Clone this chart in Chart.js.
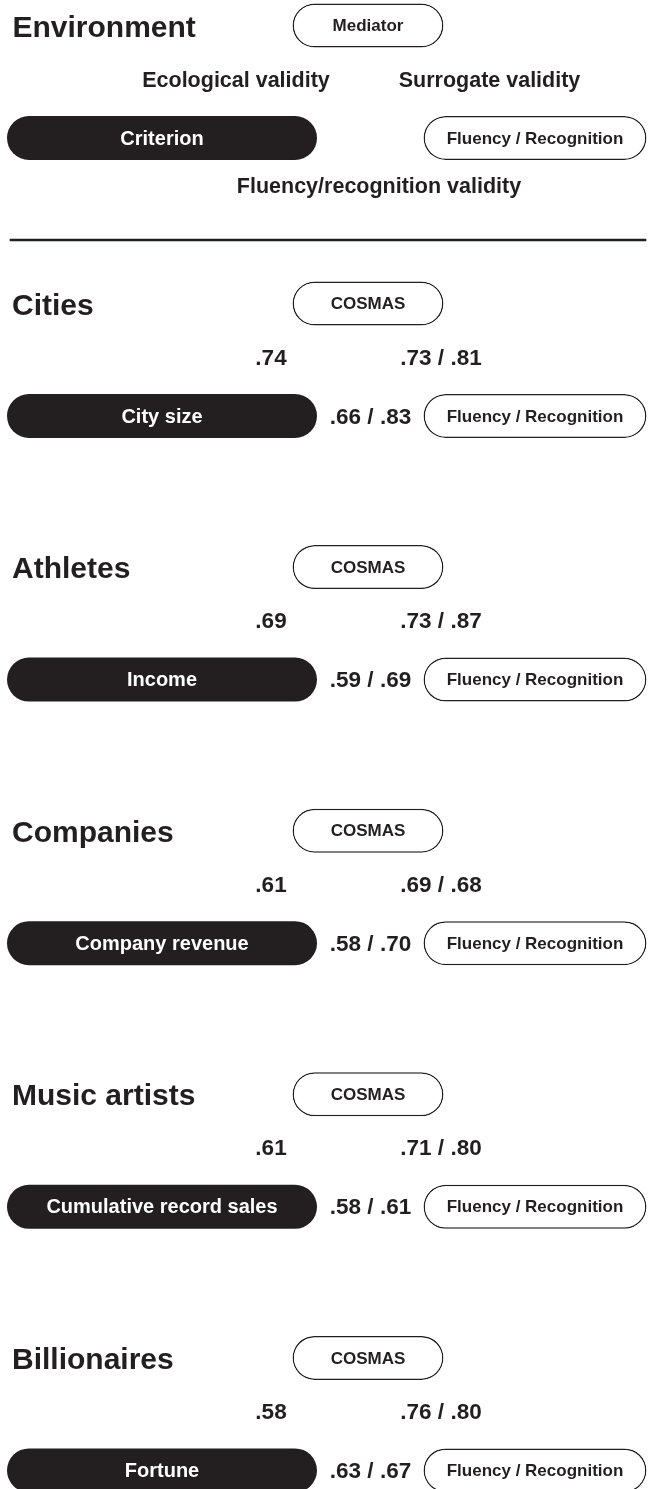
<!DOCTYPE html>
<html>
<head>
<meta charset="utf-8">
<script src="https://cdn.jsdelivr.net/npm/chart.js@4.4.0/dist/chart.umd.min.js"></script>
<style>
  html, body { margin: 0; padding: 0; background: #fff; }
  #wrap { width: 649px; height: 1489px; position: relative; }
</style>
</head>
<body>
<div id="wrap"><canvas id="diagram"></canvas></div>
<script>
// data
const sections = ["Cities", "Athletes", "Companies", "Music artists", "Billionaires"];
const criteria = ["City size", "Income", "Company revenue", "Cumulative record sales", "Fortune"];
const ecologicalValidity = [0.74, 0.69, 0.61, 0.61, 0.58];
const surrogateFluency = [0.73, 0.73, 0.69, 0.71, 0.76];
const surrogateRecognition = [0.81, 0.87, 0.68, 0.80, 0.80];
const validityFluency = [0.66, 0.59, 0.58, 0.58, 0.63];
const validityRecognition = [0.83, 0.69, 0.70, 0.61, 0.67];

// layout (canvas pixels)
const W = 649, H = 1489;
const INK = "#231f20";
const FONT = '"Liberation Sans", Arial, sans-serif';
const rowTops = [25.5];
sections.forEach((s, i) => rowTops.push(303.5 + i * 263.6));

const fmt = v => v.toFixed(2).replace(/^0/, "");
const pair = (a, b) => fmt(a) + " / " + fmt(b);

const pill = {
  type: "bar",
  grouped: false,
  barThickness: 44,
  borderSkipped: false,
  borderRadius: 22,
  inflateAmount: 0
};

const mediatorLabels = ["Mediator"].concat(sections.map(() => "COSMAS"));
const criterionLabels = ["Criterion"].concat(criteria);
const fluencyLabels = rowTops.map(() => "Fluency / Recognition");

const datasets = [
  Object.assign({}, pill, {
    label: "mediator",
    data: rowTops.map(c => ({ x: [292.5, 443.5], y: c })),
    backgroundColor: "#fff", borderColor: INK, borderWidth: 1.5,
    pillText: mediatorLabels, textColor: INK, textSize: 17
  }),
  Object.assign({}, pill, {
    label: "criterion",
    data: rowTops.map(c => ({ x: [7, 317], y: c + 112.5 })),
    backgroundColor: INK, borderWidth: 0,
    pillText: criterionLabels, textColor: "#fff", textSize: 20
  }),
  Object.assign({}, pill, {
    label: "fluency",
    data: rowTops.map(c => ({ x: [423.5, 646.5], y: c + 112.5 })),
    backgroundColor: "#fff", borderColor: INK, borderWidth: 1.5,
    pillText: fluencyLabels, textColor: INK, textSize: 17
  }),
  {
    type: "bar", label: "divider", grouped: false, barThickness: 1.6,
    data: [{ x: [10, 646], y: 240 }],
    backgroundColor: INK, borderWidth: 0, borderRadius: 0
  }
];

const textPlugin = {
  id: "diagramText",
  afterDatasetsDraw(chart) {
    const ctx = chart.ctx;
    const xs = chart.scales.x, ys = chart.scales.y;
    const put = (txt, x, y, size, align, color) => {
      ctx.font = "bold " + size + "px " + FONT;
      ctx.fillStyle = color || INK;
      ctx.textAlign = align;
      ctx.textBaseline = "alphabetic";
      ctx.fillText(txt, xs.getPixelForValue(x), ys.getPixelForValue(y));
    };
    ctx.save();
    // labels inside the pills
    chart.data.datasets.forEach((ds, i) => {
      if (!ds.pillText) return;
      chart.getDatasetMeta(i).data.forEach((el, j) => {
        const p = el.getProps(["x", "y", "base"], true);
        ctx.font = "bold " + ds.textSize + "px " + FONT;
        ctx.fillStyle = ds.textColor;
        ctx.textAlign = "center";
        ctx.textBaseline = "middle";
        ctx.fillText(ds.pillText[j], (p.x + p.base) / 2, p.y + 1);
      });
    });
    // header row
    const c0 = rowTops[0];
    put("Environment", 12.5, c0 + 11.5, 30, "left");
    put("Ecological validity", 236, c0 + 61.5, 21.5, "center");
    put("Surrogate validity", 489.5, c0 + 61.5, 21.5, "center");
    put("Fluency/recognition validity", 379, c0 + 167.5, 21.5, "center");
    // sections
    sections.forEach((name, i) => {
      const c = rowTops[i + 1];
      put(name, 12, c + 11, 30, "left");
      put(fmt(ecologicalValidity[i]), 271, c + 61, 22.5, "center");
      put(pair(surrogateFluency[i], surrogateRecognition[i]), 441, c + 61, 22.5, "center");
      put(pair(validityFluency[i], validityRecognition[i]), 370.5, c + 120, 22.5, "center");
    });
    ctx.restore();
  }
};

new Chart(document.getElementById("diagram"), {
  type: "bar",
  data: { datasets },
  options: {
    indexAxis: "y",
    responsive: true,
    maintainAspectRatio: false,
    animation: false,
    events: [],
    layout: { padding: 0 },
    plugins: { legend: { display: false }, tooltip: { enabled: false } },
    scales: {
      x: { type: "linear", min: 0, max: W, offset: false, display: false },
      y: { type: "linear", min: 0, max: H, reverse: true, offset: false, display: false }
    }
  },
  plugins: [textPlugin]
});
</script>
</body>
</html>
